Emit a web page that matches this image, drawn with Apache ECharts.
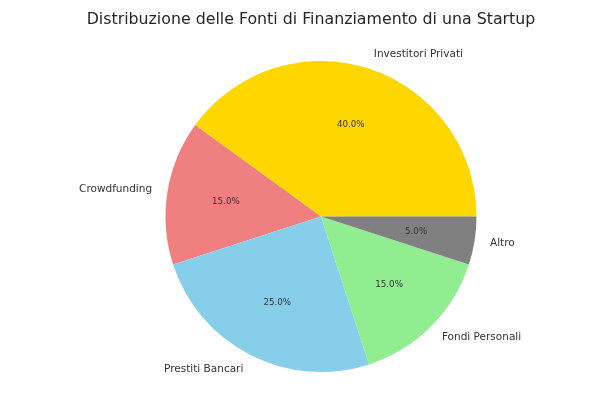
<!DOCTYPE html>
<html><head><meta charset="utf-8">
<script src="https://cdn.jsdelivr.net/npm/echarts@6/dist/echarts.min.js"></script>
<style>html,body{margin:0;padding:0;background:#fff}#c{width:600px;height:418px}</style>
</head><body><div id="c"></div>
<script>
const titleText = 'Distribuzione delle Fonti di Finanziamento di una Startup';
const categories = ['Investitori Privati', 'Crowdfunding', 'Prestiti Bancari', 'Fondi Personali', 'Altro'];
const values = [40, 15, 25, 15, 5];
const colors = ['#FFD700', '#F08080', '#87CEEB', '#90EE90', '#808080'];

const R = 155.5;
const center = [321, 216.5];
const font = 'DejaVu Sans';
const data = categories.map((n, i) => ({ name: n, value: values[i], itemStyle: { color: colors[i] } }));
const total = values.reduce((a, b) => a + b, 0);

const chart = echarts.init(document.getElementById('c'));
chart.setOption({
  animation: false,
  title: { text: titleText, left: 306, top: 7, textAlign: 'center',
    textStyle: { fontFamily: font, fontSize: 15.8, fontWeight: 'normal', color: '#262626' } },
  series: [
    {
      type: 'pie', center: center, radius: [0, R], startAngle: 0, clockwise: false,
      avoidLabelOverlap: false, silent: true,
      data: data,
      label: { show: true, position: 'outside', fontFamily: font, fontSize: 10.5, color: '#333',
        distanceToLabelLine: 0, formatter: '{b}' },
      labelLine: { show: false, length: R * 0.1, length2: 0 }
    },
    {
      type: 'pie', center: center, radius: [0, R * 1.2], startAngle: 0, clockwise: false,
      avoidLabelOverlap: false, silent: true,
      data: data.map(d => ({ name: d.name, value: d.value, itemStyle: { color: 'rgba(0,0,0,0)' } })),
      label: { show: true, position: 'inside', fontFamily: font, fontSize: 8.7, color: '#333',
        formatter: p => (p.value / total * 100).toFixed(1) + '%' },
      labelLine: { show: false }
    }
  ]
});
</script></body></html>
